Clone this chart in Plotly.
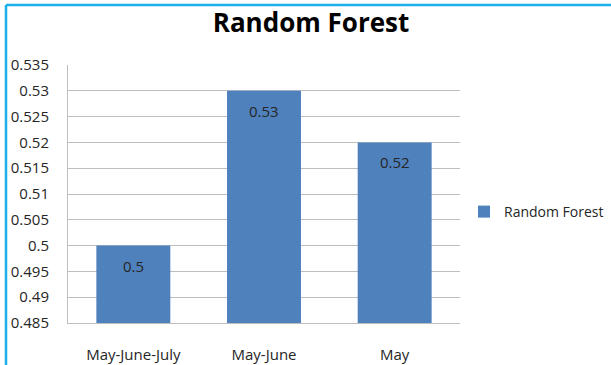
import plotly.graph_objects as go

categories = ["May-June-July", "May-June", "May"]
values = [0.50, 0.53, 0.52]
value_labels = ["0.5", "0.53", "0.52"]
series_name = "Random Forest"
y_ticks = [0.485, 0.49, 0.495, 0.5, 0.505, 0.51, 0.515, 0.52, 0.525, 0.53, 0.535]
y_tick_labels = ["0.485", "0.49", "0.495", "0.5", "0.505", "0.51", "0.515", "0.52", "0.525", "0.53", "0.535"]

FONT = "Open Sans"
BAR = "#4F81BD"
TXT = "#262626"

fig = go.Figure()
fig.add_trace(go.Bar(
    x=categories, y=values, name=series_name,
    marker=dict(color=BAR, line=dict(width=0)),
    showlegend=True,
))

for c, v, t in zip(categories, values, value_labels):
    fig.add_annotation(x=c, y=v, text=t, showarrow=False, yanchor="middle",
                       yshift=-20, font=dict(family=FONT, size=15, color=TXT))

L, R, T, B = 68, 611 - 460, 65, 365 - 323
W, H = 611 - L - R, 365 - T - B

fig.update_layout(
    width=611, height=365,
    margin=dict(l=L, r=R, t=T, b=B, autoexpand=False),
    paper_bgcolor="white", plot_bgcolor="white",
    bargap=0.434,
    title=dict(text="<b>Random Forest</b>", x=311 / 611, xanchor="center",
               y=1 - 23 / 365, yanchor="middle",
               font=dict(family=FONT, size=26, color="#000000")),
    legend=dict(x=(464 - L) / W, y=1 - (212 - T) / H, xanchor="left", yanchor="middle",
                font=dict(family=FONT, size=14, color=TXT),
                itemwidth=30, bgcolor="rgba(0,0,0,0)"),
    font=dict(family=FONT, size=15, color=TXT),
)

fig.update_yaxes(
    range=[0.485, 0.535], tickvals=y_ticks, ticktext=y_tick_labels,
    showgrid=True, gridcolor="#BEBEBE", gridwidth=1,
    showline=True, linecolor="#BEBEBE", linewidth=1,
    ticks="", ticklabelstandoff=15, zeroline=False, automargin=False,
    tickfont=dict(family=FONT, size=15, color=TXT),
)
fig.update_xaxes(
    showline=True, linecolor="#BEBEBE", linewidth=1, showgrid=False,
    ticks="", ticklabelstandoff=18, automargin=False,
    tickfont=dict(family=FONT, size=15, color=TXT),
)

# cyan frame lines (top and left edges of the chart area)
fig.add_shape(type="line", xref="paper", yref="paper",
              x0=(6 - L) / W, x1=(611 - L) / W, y0=1 + (T - 5) / H, y1=1 + (T - 5) / H,
              line=dict(color="#1AB0E8", width=2.5))
fig.add_shape(type="line", xref="paper", yref="paper",
              x0=(6 - L) / W, x1=(6 - L) / W, y0=1 + (T - 5) / H, y1=-(B + 5) / H,
              line=dict(color="#1AB0E8", width=2.5))

fig.write_html("out.html")
